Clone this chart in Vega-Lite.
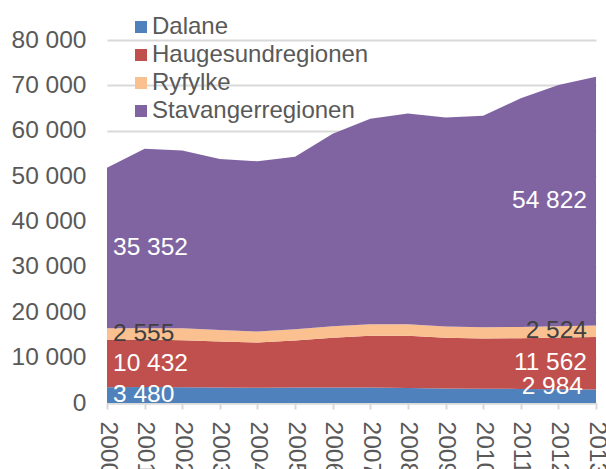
{
  "$schema": "https://vega.github.io/schema/vega-lite/v6.json",
  "width": 489,
  "height": 363,
  "autosize": {"type": "none"},
  "padding": {"left": 107, "top": 40, "right": 10, "bottom": 66},
  "background": "white",
  "config": {
    "locale": {"number": {"decimal": ",", "thousands": "\u00a0", "grouping": [3], "currency": ["", " kr"]}},
    "font": "Liberation Sans",
    "view": {"stroke": null}
  },
  "data": {
    "values": [
      {"year": 2000, "region": "Dalane", "order": 1, "value": 3480},
      {"year": 2000, "region": "Haugesundregionen", "order": 2, "value": 10432},
      {"year": 2000, "region": "Ryfylke", "order": 3, "value": 2555},
      {"year": 2000, "region": "Stavangerregionen", "order": 4, "value": 35352},
      {"year": 2001, "region": "Dalane", "order": 1, "value": 3500},
      {"year": 2001, "region": "Haugesundregionen", "order": 2, "value": 10480},
      {"year": 2001, "region": "Ryfylke", "order": 3, "value": 2520},
      {"year": 2001, "region": "Stavangerregionen", "order": 4, "value": 39540},
      {"year": 2002, "region": "Dalane", "order": 1, "value": 3450},
      {"year": 2002, "region": "Haugesundregionen", "order": 2, "value": 10390},
      {"year": 2002, "region": "Ryfylke", "order": 3, "value": 2610},
      {"year": 2002, "region": "Stavangerregionen", "order": 4, "value": 39220},
      {"year": 2003, "region": "Dalane", "order": 1, "value": 3400},
      {"year": 2003, "region": "Haugesundregionen", "order": 2, "value": 10150},
      {"year": 2003, "region": "Ryfylke", "order": 3, "value": 2560},
      {"year": 2003, "region": "Stavangerregionen", "order": 4, "value": 37670},
      {"year": 2004, "region": "Dalane", "order": 1, "value": 3350},
      {"year": 2004, "region": "Haugesundregionen", "order": 2, "value": 9980},
      {"year": 2004, "region": "Ryfylke", "order": 3, "value": 2420},
      {"year": 2004, "region": "Stavangerregionen", "order": 4, "value": 37510},
      {"year": 2005, "region": "Dalane", "order": 1, "value": 3400},
      {"year": 2005, "region": "Haugesundregionen", "order": 2, "value": 10370},
      {"year": 2005, "region": "Ryfylke", "order": 3, "value": 2490},
      {"year": 2005, "region": "Stavangerregionen", "order": 4, "value": 38030},
      {"year": 2006, "region": "Dalane", "order": 1, "value": 3420},
      {"year": 2006, "region": "Haugesundregionen", "order": 2, "value": 10940},
      {"year": 2006, "region": "Ryfylke", "order": 3, "value": 2560},
      {"year": 2006, "region": "Stavangerregionen", "order": 4, "value": 42420},
      {"year": 2007, "region": "Dalane", "order": 1, "value": 3430},
      {"year": 2007, "region": "Haugesundregionen", "order": 2, "value": 11370},
      {"year": 2007, "region": "Ryfylke", "order": 3, "value": 2560},
      {"year": 2007, "region": "Stavangerregionen", "order": 4, "value": 45280},
      {"year": 2008, "region": "Dalane", "order": 1, "value": 3300},
      {"year": 2008, "region": "Haugesundregionen", "order": 2, "value": 11500},
      {"year": 2008, "region": "Ryfylke", "order": 3, "value": 2560},
      {"year": 2008, "region": "Stavangerregionen", "order": 4, "value": 46440},
      {"year": 2009, "region": "Dalane", "order": 1, "value": 3200},
      {"year": 2009, "region": "Haugesundregionen", "order": 2, "value": 11160},
      {"year": 2009, "region": "Ryfylke", "order": 3, "value": 2490},
      {"year": 2009, "region": "Stavangerregionen", "order": 4, "value": 46080},
      {"year": 2010, "region": "Dalane", "order": 1, "value": 3150},
      {"year": 2010, "region": "Haugesundregionen", "order": 2, "value": 11070},
      {"year": 2010, "region": "Ryfylke", "order": 3, "value": 2480},
      {"year": 2010, "region": "Stavangerregionen", "order": 4, "value": 46600},
      {"year": 2011, "region": "Dalane", "order": 1, "value": 3100},
      {"year": 2011, "region": "Haugesundregionen", "order": 2, "value": 11190},
      {"year": 2011, "region": "Ryfylke", "order": 3, "value": 2450},
      {"year": 2011, "region": "Stavangerregionen", "order": 4, "value": 50440},
      {"year": 2012, "region": "Dalane", "order": 1, "value": 3050},
      {"year": 2012, "region": "Haugesundregionen", "order": 2, "value": 11380},
      {"year": 2012, "region": "Ryfylke", "order": 3, "value": 2490},
      {"year": 2012, "region": "Stavangerregionen", "order": 4, "value": 53190},
      {"year": 2013, "region": "Dalane", "order": 1, "value": 2984},
      {"year": 2013, "region": "Haugesundregionen", "order": 2, "value": 11562},
      {"year": 2013, "region": "Ryfylke", "order": 3, "value": 2524},
      {"year": 2013, "region": "Stavangerregionen", "order": 4, "value": 54822}
    ]
  },
  "layer": [
    {
      "mark": {"type": "area", "opacity": 1},
      "encoding": {
        "x": {
          "field": "year", "type": "ordinal",
          "scale": {"type": "point", "padding": 0},
          "axis": {
            "title": null, "labelAngle": 90, "labelAlign": "left", "labelBaseline": "middle",
            "labelFontSize": 24.5, "labelColor": "#595959", "labelPadding": 12,
            "domainColor": "#d9d9d9", "domainWidth": 2, "tickColor": "#d9d9d9", "tickWidth": 2, "tickSize": 6,
            "grid": false
          }
        },
        "y": {
          "field": "value", "type": "quantitative", "stack": "zero",
          "scale": {"domain": [0, 80000], "nice": false},
          "axis": {
            "title": null, "values": [0, 10000, 20000, 30000, 40000, 50000, 60000, 70000, 80000],
            "format": ",d", "labelFontSize": 24.5, "labelColor": "#595959",
            "ticks": false, "tickSize": 0, "labelPadding": 21, "domain": false,
            "gridColor": "#d9d9d9", "gridWidth": 2
          }
        },
        "color": {
          "field": "region", "type": "nominal",
          "scale": {
            "domain": ["Dalane", "Haugesundregionen", "Ryfylke", "Stavangerregionen"],
            "range": ["#4F81BD", "#C0504D", "#FAC090", "#8064A2"]
          },
          "legend": {
            "title": null, "orient": "none", "legendX": 22, "legendY": -25,
            "symbolType": "square", "symbolSize": 144, "symbolOpacity": 1, "symbolStrokeWidth": 0,
            "labelFontSize": 24, "labelColor": "#595959", "labelOffset": -1, "rowPadding": 4,
            "labelLimit": 0
          }
        },
        "order": {"field": "order", "type": "quantitative"}
      }
    },
    {
      "transform": [
        {"filter": "datum.year === 2000"},
        {"stack": "value", "groupby": ["year"], "sort": [{"field": "order"}], "as": ["y0", "y1"]},
        {"fold": ["y0", "y1"], "as": ["k", "pos"]},
        {"aggregate": [{"op": "mean", "field": "pos", "as": "mid"}], "groupby": ["year", "region", "value"]}
      ],
      "mark": {"type": "text", "align": "left", "baseline": "middle", "dx": 6, "fontSize": 24.5},
      "encoding": {
        "x": {"field": "year", "type": "ordinal"},
        "y": {"field": "mid", "type": "quantitative"},
        "text": {"field": "value", "type": "quantitative", "format": ",d"},
        "color": {"condition": {"test": "datum.region === 'Ryfylke'", "value": "#404040"}, "value": "white"}
      }
    },
    {
      "transform": [
        {"filter": "datum.year === 2013"},
        {"stack": "value", "groupby": ["year"], "sort": [{"field": "order"}], "as": ["y0", "y1"]},
        {"fold": ["y0", "y1"], "as": ["k", "pos"]},
        {"aggregate": [{"op": "mean", "field": "pos", "as": "mid"}], "groupby": ["year", "region", "value"]},
        {"filter": "datum.region !== 'Dalane'"}
      ],
      "mark": {"type": "text", "align": "right", "baseline": "middle", "dx": -9, "fontSize": 24.5},
      "encoding": {
        "x": {"field": "year", "type": "ordinal"},
        "y": {"field": "mid", "type": "quantitative"},
        "text": {"field": "value", "type": "quantitative", "format": ",d"},
        "color": {"condition": {"test": "datum.region === 'Ryfylke'", "value": "#404040"}, "value": "white"}
      }
    },
    {
      "transform": [
        {"filter": "datum.year === 2013"},
        {"stack": "value", "groupby": ["year"], "sort": [{"field": "order"}], "as": ["y0", "y1"]},
        {"fold": ["y0", "y1"], "as": ["k", "pos"]},
        {"aggregate": [{"op": "mean", "field": "pos", "as": "mid"}], "groupby": ["year", "region", "value"]},
        {"filter": "datum.region === 'Dalane'"}
      ],
      "mark": {"type": "text", "align": "right", "baseline": "middle", "dx": -13, "dy": -9, "fontSize": 24.5, "color": "white"},
      "encoding": {
        "x": {"field": "year", "type": "ordinal"},
        "y": {"field": "mid", "type": "quantitative"},
        "text": {"field": "value", "type": "quantitative", "format": ",d"}
      }
    }
  ]
}
